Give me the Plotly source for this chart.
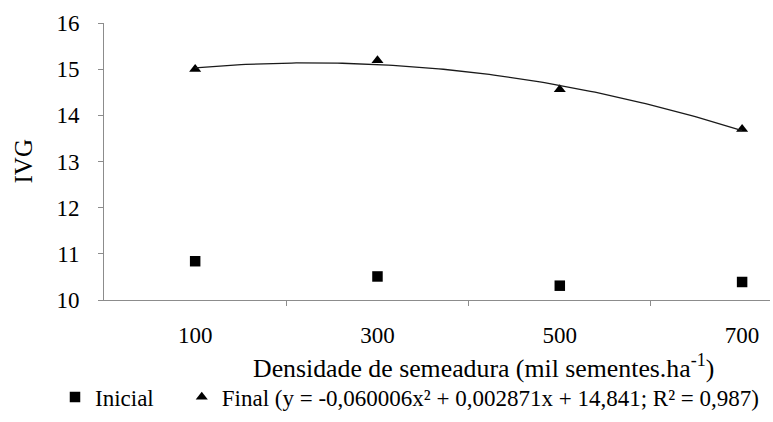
import numpy as np
import plotly.graph_objects as go

categorias = ["100", "300", "500", "700"]
inicial = [10.84, 10.51, 10.31, 10.39]
final = [15.00, 15.19, 14.56, 13.70]

idx = np.arange(len(categorias))
coef = np.polyfit(idx, final, 2)
xs = np.linspace(0, 3, 120)
ys = np.polyval(coef, xs)

FONT = "Times New Roman, Liberation Serif, DejaVu Serif, serif"
NB = "\u00a0"

fig = go.Figure()
fig.add_trace(go.Scatter(x=idx, y=inicial, mode="markers", name="Inicial" + NB * 4,
                         marker=dict(symbol="square", size=10.5, color="black")))
fig.add_trace(go.Scatter(x=idx, y=final, mode="markers",
                         name="Final (y = -0,060006x² + 0,002871x + 14,841; R² = 0,987)",
                         marker=dict(symbol="triangle-up", size=10.5, color="black")))
fig.add_trace(go.Scatter(x=xs, y=ys, mode="lines", showlegend=False,
                         line=dict(color="#1a1a1a", width=1.3)))
# overlay axis carrying the category labels
fig.add_trace(go.Scatter(x=[None], y=[None], xaxis="x2", showlegend=False))

fig.update_layout(
    width=773, height=422,
    margin=dict(l=104, r=3, t=23, b=122),
    paper_bgcolor="white", plot_bgcolor="white",
    font=dict(family=FONT, size=22, color="black"),
    xaxis=dict(range=[-0.5, 3.153], tickvals=[0.5, 1.5, 2.5], showticklabels=False,
               ticks="outside", ticklen=5, tickcolor="#8c8c8c",
               showline=True, linecolor="#8c8c8c", linewidth=1, showgrid=False, zeroline=False),
    xaxis2=dict(overlaying="x", range=[-0.5, 3.153], tickvals=list(idx), ticktext=categorias,
                side="bottom", ticks="", showline=False, showgrid=False, zeroline=False,
                tickfont=dict(family=FONT, size=23), ticklabelstandoff=19),
    yaxis=dict(range=[10, 16], dtick=1, ticks="outside", ticklen=5, tickcolor="#8c8c8c",
               showline=True, linecolor="#8c8c8c", linewidth=1, showgrid=False, zeroline=False,
               tickfont=dict(family=FONT, size=23), ticklabelstandoff=14),
    legend=dict(orientation="h", x=(55 - 104) / 666, xanchor="left",
                y=-(418.5 - 300) / 277, yanchor="bottom",
                font=dict(family=FONT, size=23), itemwidth=30,
                bgcolor="rgba(0,0,0,0)"),
    annotations=[
        dict(text="Densidade de semeadura (mil sementes.ha<sup>-1</sup>)",
             xref="paper", yref="paper", x=(483 - 104) / 666, y=-(366 - 300) / 277,
             xanchor="center", yanchor="middle", showarrow=False,
             font=dict(family=FONT, size=25.8)),
        dict(text="IVG", textangle=-90,
             xref="paper", yref="paper", x=(23 - 104) / 666, y=0.5,
             xanchor="center", yanchor="middle", showarrow=False,
             font=dict(family=FONT, size=25)),
    ],
)

fig.write_html("out.html")
